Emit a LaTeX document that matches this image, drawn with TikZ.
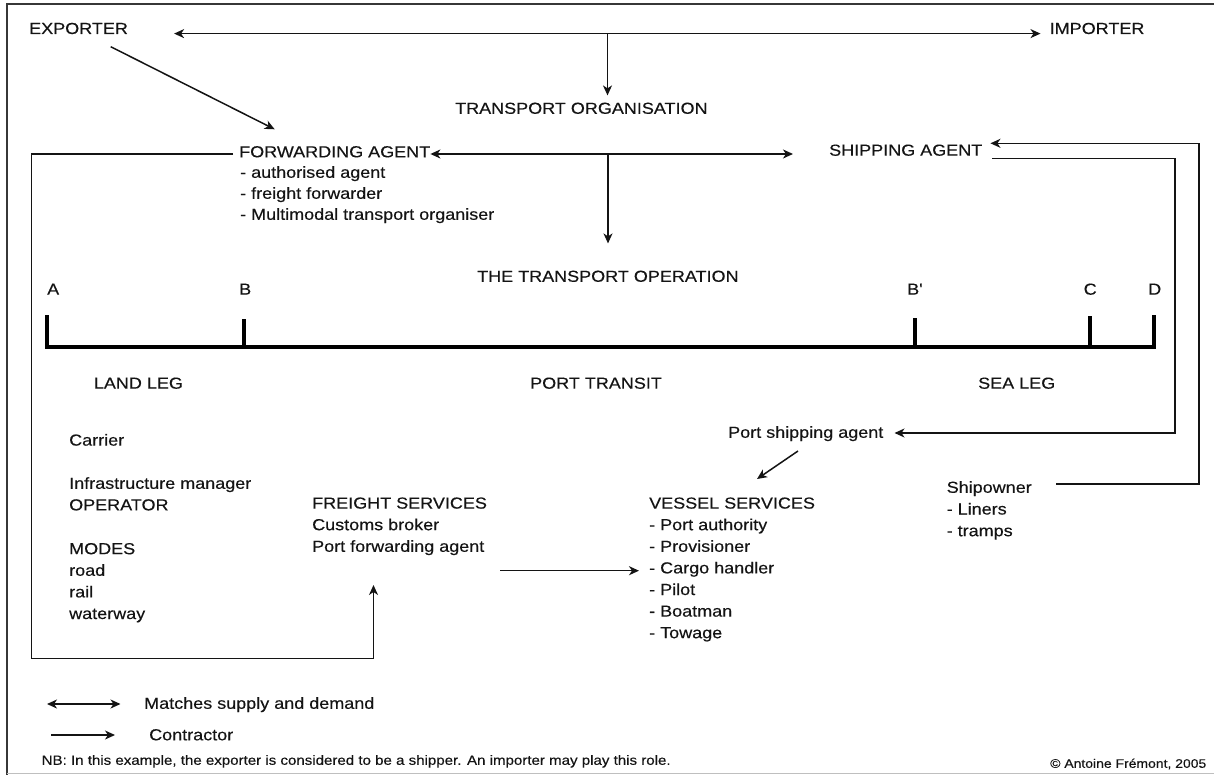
\documentclass[tikz,border=0pt]{standalone}
\usepackage{fontspec}
\setmainfont{Liberation Sans}[FakeStretch=1.125,FakeBold=0.3]
\usetikzlibrary{arrows.meta,calc}
\definecolor{ink}{HTML}{141414}
\begin{document}
\begin{tikzpicture}[x=1pt,y=-1pt,
  txt/.style={inner sep=0pt, anchor=base west, font=\fontsize{16}{19}\selectfont, text=ink},
  small/.style={txt, font=\fontsize{13.4}{16}\selectfont},
  tiny/.style={txt, font=\fontsize{12.4}{15}\selectfont},
  con/.style={draw=ink, line width=1.5pt},
  tip/.tip={Stealth[length=10pt,width=9pt,inset=3pt]},
  ar/.style={con, -tip},
  dar/.style={con, tip-tip},
  axis/.style={draw=black, line width=4pt},
  ]
\useasboundingbox (0,0) rectangle (1214,775);
% frame
\draw[draw=ink!85, line width=2pt] (1214,4.5) -- (6.5,4.5) -- (6.5,775);
\draw[draw=black!25, line width=1pt] (6.5,773.5) -- (1214,773.5);

% top level
\node[txt] (exp) at (29,34) {EXPORTER};
\node[txt] (imp) at (1049.5,34) {IMPORTER};
\node[txt] (torg) at (455,113.8) {TRANSPORT ORGANISATION};
\node[txt] (fwd) at (239,157.3) {FORWARDING AGENT};
\node[txt] (fa1) at (240,177.8) {- authorised agent};
\node[txt] (fa2) at (240,198.8) {- freight forwarder};
\node[txt] (fa3) at (240,219.8) {- Multimodal transport organiser};
\node[txt] (ship) at (829,155.7) {SHIPPING AGENT};
\node[txt] (op) at (477,281.8) {THE TRANSPORT OPERATION};

% axis labels
\node[txt] (lA) at (47,294.7) {A};
\node[txt] (lB) at (239,294.7) {B};
\node[txt] (lBp) at (907,294.7) {B\textquotesingle};
\node[txt] (lC) at (1083.5,294.7) {C};
\node[txt] (lD) at (1148,294.7) {D};
\draw[axis] (47,315) -- (47,347) -- (1154,347) -- (1154,315);
\draw[axis] (244,319) -- (244,347);
\draw[axis] (915,318) -- (915,347);
\draw[axis] (1090,316) -- (1090,347);

\node[txt] (land) at (93.7,388.7) {LAND LEG};
\node[txt] (port) at (530,388.7) {PORT TRANSIT};
\node[txt] (sea) at (978,388.7) {SEA LEG};

% land leg column
\node[txt] (car) at (69,445.6) {Carrier};
\node[txt] (inf) at (69,488.8) {Infrastructure manager};
\node[txt] (opr) at (69,510.4) {OPERATOR};
\node[txt] (mod) at (69,554.2) {MODES};
\node[txt] (road) at (69,575.8) {road};
\node[txt] (rail) at (69,597.4) {rail};
\node[txt] (water) at (69,619) {waterway};

% freight services
\node[txt] (fs) at (312,508.6) {FREIGHT SERVICES};
\node[txt] (cb) at (312,530.2) {Customs broker};
\node[txt] (pfa) at (312,551.8) {Port forwarding agent};

% vessel services
\node[txt] (vs) at (649,508.6) {VESSEL SERVICES};
\node[txt] (vs1) at (649,530.2) {- Port authority};
\node[txt] (vs2) at (649,551.8) {- Provisioner};
\node[txt] (vs3) at (649,573.4) {- Cargo handler};
\node[txt] (vs4) at (649,595) {- Pilot};
\node[txt] (vs5) at (649,616.6) {- Boatman};
\node[txt] (vs6) at (649,638.2) {- Towage};

% port shipping agent, shipowner
\node[txt] (psa) at (728,437.8) {Port shipping agent};
\node[txt] (so) at (946.5,492.8) {Shipowner};
\node[txt] (so1) at (946.5,514.5) {- Liners};
\node[txt] (so2) at (946.5,536.2) {- tramps};

% legend and notes
\node[txt] (lg1) at (144,708.8) {Matches supply and demand};
\node[txt] (lg2) at (149,740.3) {Contractor};
\node[small] (nb) at (41.5,764.8) {NB: In this example, the exporter is considered to be a shipper. An importer may play this role.};
\node[tiny] (copy) at (1050,767.8) {© Antoine Frémont, 2005};

% coordinates
\coordinate (j1) at (607.5,33.6);
\coordinate (j2) at (608,154);
\coordinate (e1) at (110.7,46.7);
\coordinate (e2) at (274.7,129.3);
\coordinate (fin) at (373.5,585);
\coordinate (fsout) at (500,570.7);
\coordinate (p1) at (798,451);
\coordinate (p2) at (757,479);
\coordinate (lga) at (47,704);
\coordinate (lgb) at (51,735);

% connectors
\draw[dar] ([xshift=46pt,yshift=0.4pt]exp.base east) -- ([xshift=-9pt,yshift=0.4pt]imp.base west);
\draw[ar, shorten >=7pt] (j1) -- (j1 |- torg.north);
\draw[ar] (e1) -- (e2);
\draw[dar] ([yshift=3.3pt]fwd.base east) -- ([xshift=-36pt,yshift=1.7pt]ship.base west);
\draw[ar, shorten >=27pt] (j2) -- (j2 |- op.north);
\draw[ar] ([xshift=-6pt,yshift=3.3pt]fwd.base west) -- (31.5,154) -- (31.5,658.3) -| (fin);
\draw[ar] (fsout) -- ([xshift=-10pt,yshift=2.7pt]vs3.base west);
\draw[ar] ([xshift=10pt,yshift=-2.6pt]ship.base east) -- (1175,158.3) -- (1175,433) -- ([xshift=11pt,yshift=4.8pt]psa.base east);
\draw[ar] ([xshift=24.5pt,yshift=8.8pt]so.base east) -- (1199,484) -- (1199,143.3) -- ([xshift=8pt,yshift=12.4pt]ship.base east);
\draw[ar] (p1) -- (p2);
\draw[dar] (lga) -- ([xshift=-23.5pt,yshift=4.8pt]lg1.base west);
\draw[ar] (lgb) -- ([xshift=-34pt,yshift=5.3pt]lg2.base west);
\end{tikzpicture}
\end{document}
